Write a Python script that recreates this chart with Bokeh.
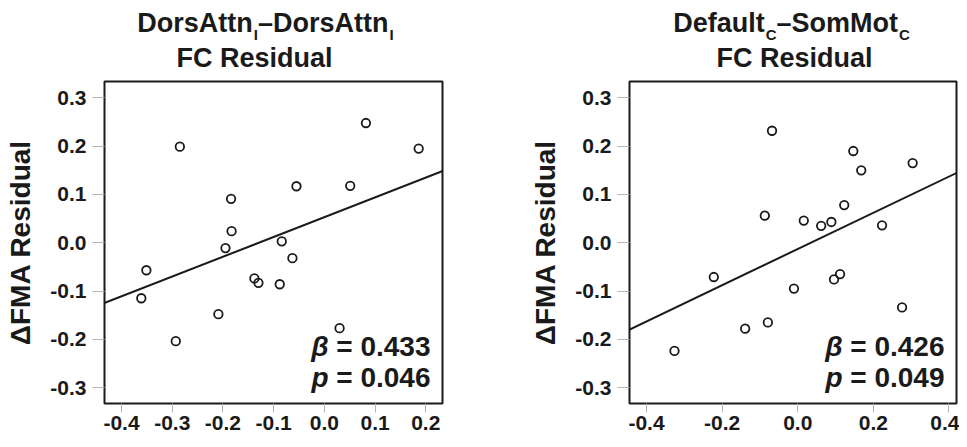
from bokeh.plotting import figure
from bokeh.layouts import row, column
from bokeh.models import Label, Slope, FixedTicker
from bokeh.embed import file_html
from bokeh.resources import INLINE

# ---------------- data ----------------
dors_x = [-0.285, 0.082, 0.186, -0.055, 0.051, -0.184, -0.183, -0.195, -0.084,
          -0.063, -0.351, -0.138, -0.130, -0.088, -0.361, -0.209, -0.293, 0.030]
dors_y = [0.199, 0.248, 0.195, 0.117, 0.118, 0.091, 0.024, -0.011, 0.003,
          -0.032, -0.057, -0.074, -0.083, -0.086, -0.115, -0.148, -0.204, -0.177]
dors_fit_slope = 0.410
dors_fit_intercept = 0.053
dors_beta = "0.433"
dors_p = "0.046"

def_x = [-0.068, 0.147, 0.168, 0.304, -0.087, 0.016, 0.062, 0.089, 0.123,
         0.223, -0.222, -0.010, 0.096, 0.112, 0.276, -0.139, -0.079, -0.326]
def_y = [0.232, 0.190, 0.150, 0.165, 0.056, 0.046, 0.035, 0.043, 0.078,
         0.036, -0.071, -0.095, -0.076, -0.065, -0.134, -0.178, -0.165, -0.224]
def_fit_slope = 0.375
def_fit_intercept = -0.013
def_beta = "0.426"
def_p = "0.049"

y_ticks = [-0.3, -0.2, -0.1, 0.0, 0.1, 0.2, 0.3]
y_tick_labels = ["-0.3", "-0.2", "-0.1", "0.0", "0.1", "0.2", "0.3"]
dors_x_ticks = [-0.4, -0.3, -0.2, -0.1, 0.0, 0.1, 0.2]
dors_x_tick_labels = ["-0.4", "-0.3", "-0.2", "-0.1", "0.0", "0.1", "0.2"]
def_x_ticks = [-0.4, -0.2, 0.0, 0.2, 0.4]
def_x_tick_labels = ["-0.4", "-0.2", "0.0", "0.2", "0.4"]

y_label = "ΔFMA Residual"
dors_title = [("DorsAttn", False), ("I", True), ("–DorsAttn", False), ("I", True)]
def_title = [("Default", False), ("C", True), ("–SomMot", False), ("C", True)]
title_line2 = "FC Residual"

# ---------------- styling ----------------
FONT = "Liberation Sans"
INK = "#1a1a1a"
TITLE_SIZE = 27
SUB_SIZE = 15
STAT_SIZE = 28
TOTAL_H = 439
TITLE_H = 72
SHIFT = 10   # baseline correction for Label text

# Arial/Liberation Sans Bold advance widths (per 1000 em)
W = {"D": 722, "o": 611, "r": 389, "s": 556, "A": 722, "t": 333, "n": 611,
     "e": 556, "f": 333, "a": 556, "u": 611, "l": 278, "S": 667, "m": 889,
     "M": 833, "C": 722, "I": 278, "–": 556, "=": 584, " ": 278, ".": 278,
     "0": 556, "1": 556, "2": 556, "3": 556, "4": 556, "5": 556, "6": 556,
     "7": 556, "8": 556, "9": 556}


def tw(s, size):
    return sum(W.get(c, 556) for c in s) * size / 1000.0


def make_title(parts, width, c1, c2):
    # frame of this figure is aligned with the panel's frame below it
    t = figure(width=width, height=TITLE_H, x_range=(0, 1), y_range=(0, 1),
               output_backend="svg", toolbar_location=None, tools="",
               x_axis_location=None, y_axis_location=None)
    t.min_border = 0
    t.outline_line_color = None
    t.xgrid.visible = False
    t.ygrid.visible = False
    t.background_fill_color = "white"
    t.border_fill_color = "white"
    total = 0.0
    for txt, sub in parts:
        total += tw(txt, SUB_SIZE if sub else TITLE_SIZE) + (1 if sub else 0)
    x = c1 - total / 2.0
    base1 = TITLE_H - 32 + SHIFT
    for txt, sub in parts:
        if sub:
            x += 1
        size = SUB_SIZE if sub else TITLE_SIZE
        t.add_layout(Label(x=x, y=base1 - (12 if sub else 0), x_units="screen",
                           y_units="screen", text=txt, text_font=FONT,
                           text_font_style="bold", text_font_size=f"{size}px",
                           text_color=INK, text_align="left",
                           text_baseline="alphabetic"))
        x += tw(txt, size)
    t.add_layout(Label(x=c2, y=TITLE_H - 67 + SHIFT, x_units="screen",
                       y_units="screen", text=title_line2, text_font=FONT,
                       text_font_style="bold", text_font_size=f"{TITLE_SIZE}px",
                       text_color=INK, text_align="center",
                       text_baseline="alphabetic"))
    return t


def make_panel(xs, ys, x_range, xticks, xlabels, slope, intercept,
               beta, pval, width, border_right, frame_w):
    p = figure(width=width, height=TOTAL_H - TITLE_H, x_range=x_range,
               y_range=(-0.333, 0.334), output_backend="svg",
               toolbar_location=None, tools="")
    p.min_border_left = 104
    p.min_border_right = border_right
    p.min_border_top = 9
    p.min_border_bottom = 36
    p.background_fill_color = "white"
    p.border_fill_color = "white"
    p.outline_line_color = INK
    p.outline_line_width = 2
    p.xgrid.visible = False
    p.ygrid.visible = False

    p.xaxis.ticker = FixedTicker(ticks=xticks)
    p.xaxis.major_label_overrides = {t: l for t, l in zip(xticks, xlabels)}
    p.yaxis.ticker = FixedTicker(ticks=y_ticks)
    p.yaxis.major_label_overrides = {t: l for t, l in zip(y_ticks, y_tick_labels)}
    for ax in (p.xaxis, p.yaxis):
        ax.axis_line_color = None
        ax.minor_tick_line_color = None
        ax.major_tick_in = 0
        ax.major_tick_line_color = "#b5b5b5"
        ax.major_tick_line_width = 1
        ax.major_label_text_font = FONT
        ax.major_label_text_font_style = "bold"
        ax.major_label_text_font_size = "21px"
        ax.major_label_text_color = INK
    p.xaxis.major_tick_out = 9
    p.xaxis.major_label_standoff = 3
    p.yaxis.major_tick_out = 12
    p.yaxis.major_label_standoff = 6
    p.yaxis.axis_label = y_label
    p.yaxis.axis_label_text_font = FONT
    p.yaxis.axis_label_text_font_style = "bold"
    p.yaxis.axis_label_text_font_size = "28px"
    p.yaxis.axis_label_text_color = INK
    p.yaxis.axis_label_standoff = 11

    p.add_layout(Slope(gradient=slope, y_intercept=intercept,
                       line_color=INK, line_width=2))
    p.scatter(xs, ys, marker="circle", size=8.5, fill_color=None,
              line_color=INK, line_width=1.8)

    xr = frame_w - 12
    for sym, val, yy in (("β", beta, 47 + SHIFT), ("p", pval, 16 + SHIFT)):
        rest = "= " + val
        p.add_layout(Label(x=xr, y=yy, x_units="screen", y_units="screen",
                           text=rest, text_font=FONT, text_font_style="bold",
                           text_font_size=f"{STAT_SIZE}px", text_color=INK,
                           text_align="right", text_baseline="alphabetic"))
        p.add_layout(Label(x=xr - tw(rest, STAT_SIZE) - tw(" ", STAT_SIZE),
                           y=yy, x_units="screen", y_units="screen",
                           text=sym, text_font=FONT,
                           text_font_style="bold italic",
                           text_font_size=f"{STAT_SIZE}px", text_color=INK,
                           text_align="right", text_baseline="alphabetic"))
    return p


W1, W2 = 525, 434
# title centres are measured from the left edge of each panel's frame
t1 = make_title(dors_title, W1, 161, 150)
t2 = make_title(def_title, W2, 162, 165)
p1 = make_panel(dors_x, dors_y, (-0.4336, 0.233), dors_x_ticks,
                dors_x_tick_labels, dors_fit_slope, dors_fit_intercept,
                dors_beta, dors_p, W1, 83, 338)
p2 = make_panel(def_x, def_y, (-0.445, 0.42), def_x_ticks,
                def_x_tick_labels, def_fit_slope, def_fit_intercept,
                def_beta, def_p, W2, 3, 327)

layout = row(column(t1, p1), column(t2, p2))
open("out.html", "w").write(file_html(layout, INLINE))
